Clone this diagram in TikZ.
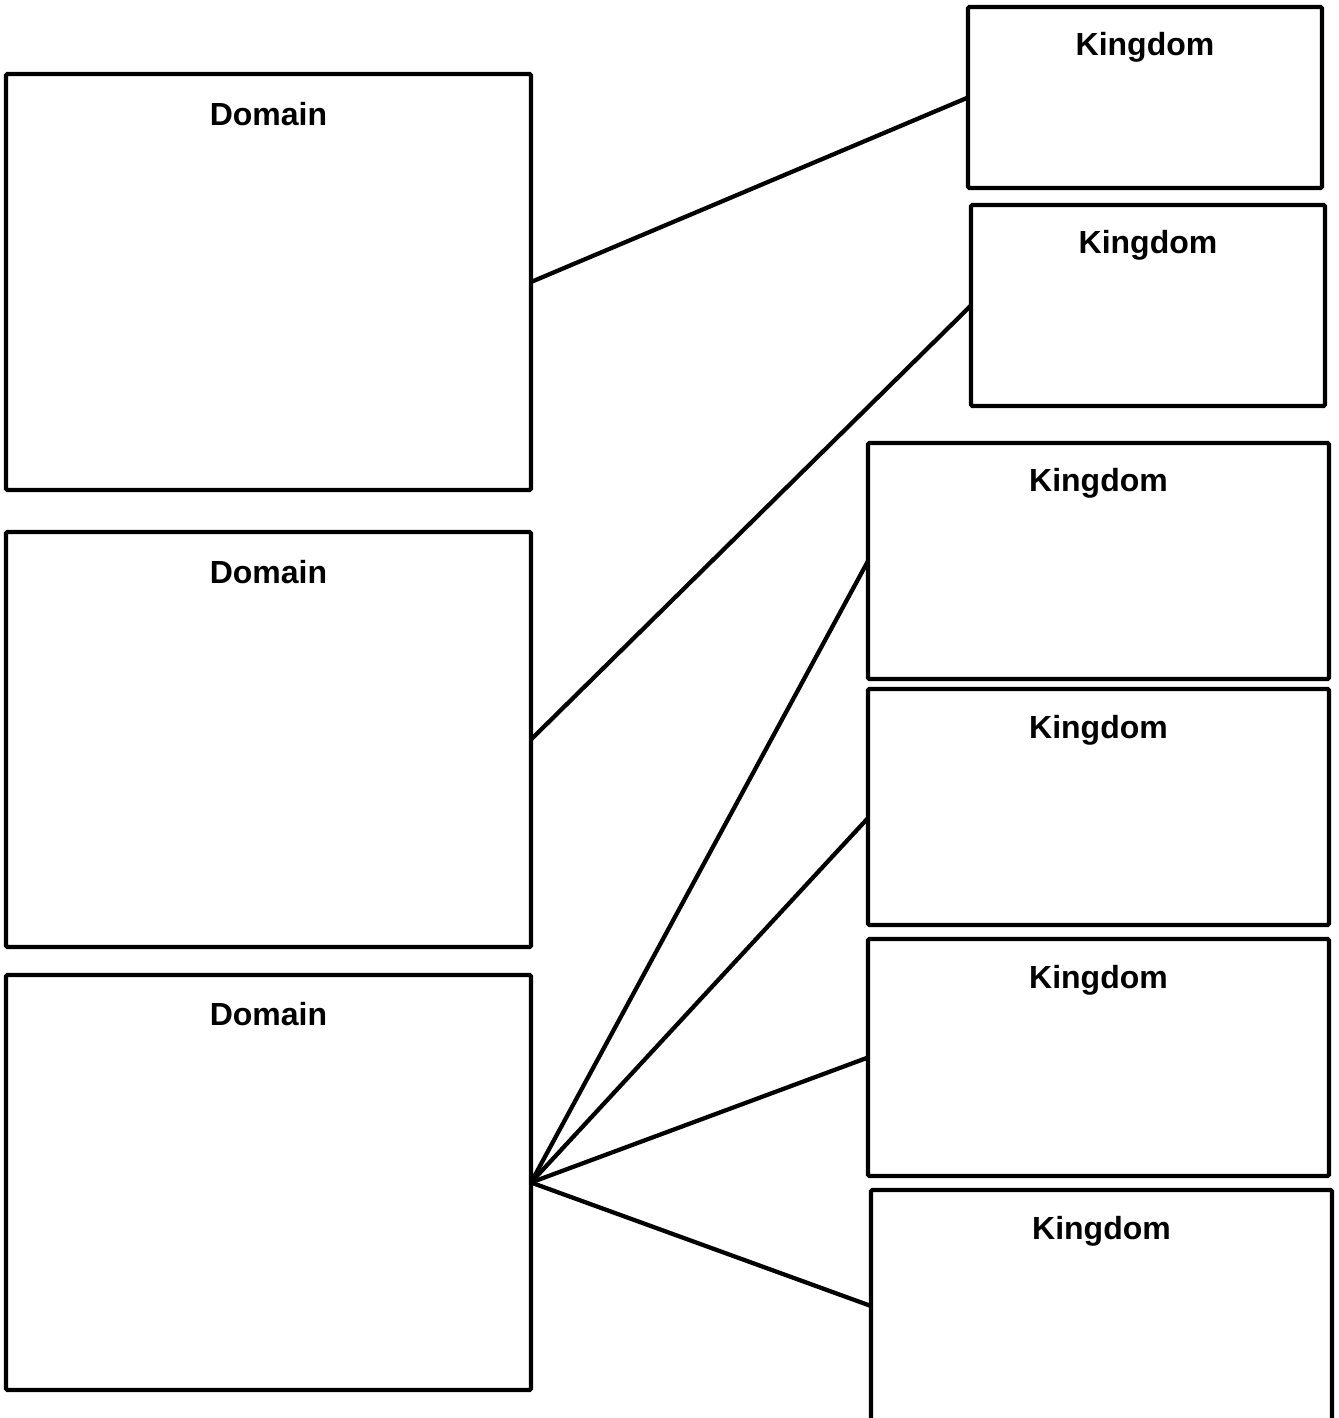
\documentclass[tikz,border=0pt]{standalone}
\usepackage{fontspec}
\setmainfont{Liberation Sans}
\begin{document}
\begin{tikzpicture}[x=0.75pt,y=-0.75pt,
  box/.style={draw=black,line width=3.2pt,fill=white,inner sep=0pt,outer sep=0pt,rounded corners=1pt},
  lbl/.style={font=\fontsize{24}{28}\selectfont\bfseries,inner sep=0pt,anchor=center},
  conn/.style={draw=black,line width=3.2pt}]
\useasboundingbox (0,0) rectangle (1339,1418);
\clip (0,0) rectangle (1339,1418);
% Domains
\node[box,minimum width=525*0.75pt,minimum height=416*0.75pt] (d1) at (268.5,282) {};
\node[box,minimum width=525*0.75pt,minimum height=415*0.75pt] (d2) at (268.5,739.5) {};
\node[box,minimum width=525*0.75pt,minimum height=415*0.75pt] (d3) at (268.5,1182.5) {};
\node[lbl] (d1l) at (268.5,114) {Domain};
\node[lbl] (d2l) at (268.5,572) {Domain};
\node[lbl] (d3l) at (268.5,1014) {Domain};
% Kingdoms
\node[box,minimum width=354*0.75pt,minimum height=181*0.75pt] (k1) at (1145,97.5) {};
\node[box,minimum width=354*0.75pt,minimum height=201*0.75pt] (k2) at (1148,305.5) {};
\node[box,minimum width=461*0.75pt,minimum height=236*0.75pt] (k3) at (1098.5,561) {};
\node[box,minimum width=461*0.75pt,minimum height=236*0.75pt] (k4) at (1098.5,807) {};
\node[box,minimum width=461*0.75pt,minimum height=237*0.75pt] (k5) at (1098.5,1057.5) {};
\node[box,minimum width=461*0.75pt,minimum height=232*0.75pt] (k6) at (1101.5,1306) {};
\node[lbl] (k1l) at (1145,47) {Kingdom};
\node[lbl] (k2l) at (1148,245) {Kingdom};
\node[lbl] (k3l) at (1098.5,483) {Kingdom};
\node[lbl] (k4l) at (1098.5,730) {Kingdom};
\node[lbl] (k5l) at (1098.5,980) {Kingdom};
\node[lbl] (k6l) at (1101.5,1231) {Kingdom};
\coordinate (k4in) at ([yshift=-8.25pt]k4.west);
% Connectors
\draw[conn] (d1.east) -- (k1.west);
\draw[conn] (d2.east) -- (k2.west);
\draw[conn] (d3.east) -- (k3.west);
\draw[conn] (d3.east) -- (k4in);
\draw[conn] (d3.east) -- (k5.west);
\draw[conn] (d3.east) -- (k6.west);
\end{tikzpicture}
\end{document}
